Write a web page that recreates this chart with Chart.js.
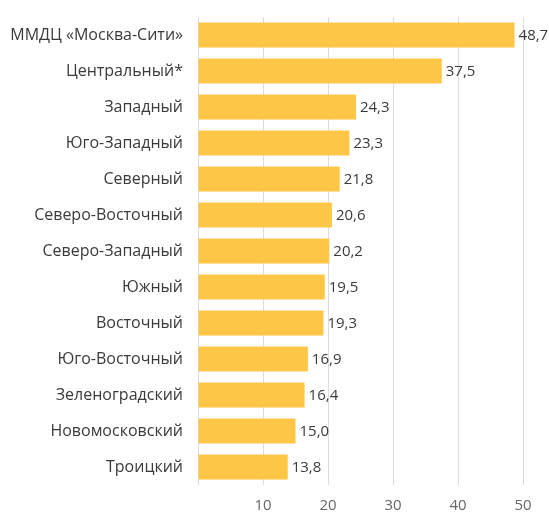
<!DOCTYPE html>
<html>
<head>
<meta charset="utf-8">
<script src="https://cdn.jsdelivr.net/npm/chart.js@4/dist/chart.umd.min.js"></script>
<style>
  html, body { margin: 0; padding: 0; background: #fff; }
  #wrap { width: 549px; height: 513px; position: relative; }
</style>
</head>
<body>
<div id="wrap"><canvas id="chart"></canvas></div>
<script>
const districts = [
  'ММДЦ «Москва-Сити»', 'Центральный*', 'Западный', 'Юго-Западный', 'Северный',
  'Северо-Восточный', 'Северо-Западный', 'Южный', 'Восточный', 'Юго-Восточный',
  'Зеленоградский', 'Новомосковский', 'Троицкий'
];
const values = [48.7, 37.5, 24.3, 23.3, 21.8, 20.6, 20.2, 19.5, 19.3, 16.9, 16.4, 15.0, 13.8];
const xTicks = [10, 20, 30, 40, 50];

const fmt = (v) => v.toFixed(1).replace('.', ',');

// value labels at the end of each bar
const barLabels = {
  id: 'barLabels',
  afterDatasetsDraw(chart) {
    const ctx = chart.ctx;
    const meta = chart.getDatasetMeta(0);
    ctx.save();
    ctx.font = '15px "Open Sans"';
    ctx.fillStyle = '#3a3a3a';
    ctx.textBaseline = 'middle';
    ctx.textAlign = 'left';
    meta.data.forEach((bar, i) => {
      ctx.fillText(fmt(values[i]), bar.x + 4, bar.y + 1);
    });
    ctx.restore();
  }
};

Chart.defaults.font.family = '"Open Sans", sans-serif';
Chart.defaults.font.size = 15;
Chart.defaults.color = '#3a3a3a';

new Chart(document.getElementById('chart'), {
  type: 'bar',
  data: {
    labels: districts,
    datasets: [{
      data: values,
      backgroundColor: '#fdc647',
      borderWidth: 0,
      categoryPercentage: 1,
      barPercentage: 0.69
    }]
  },
  options: {
    indexAxis: 'y',
    responsive: true,
    maintainAspectRatio: false,
    animation: false,
    layout: { padding: { top: 17, right: 26, bottom: 0, left: 0 } },
    plugins: { legend: { display: false }, tooltip: { enabled: false } },
    scales: {
      x: {
        min: 0,
        max: 50,
        afterBuildTicks(scale) {
          scale.ticks = [0].concat(xTicks).map(v => ({ value: v }));
        },
        afterFit(scale) { scale.height = 28; },
        ticks: {
          callback: (v) => v === 0 ? '' : v,
          color: '#666',
          padding: 12,
          font: { size: 15 }
        },
        grid: { color: '#dcdcdc', drawTicks: false, lineWidth: 1 },
        border: { display: false }
      },
      y: {
        afterFit(scale) { scale.width = 198; },
        ticks: { color: '#3a3a3a', padding: 7, font: { size: 16 } },
        grid: { display: false },
        border: { display: false }
      }
    }
  },
  plugins: [barLabels]
});
</script>
</body>
</html>
